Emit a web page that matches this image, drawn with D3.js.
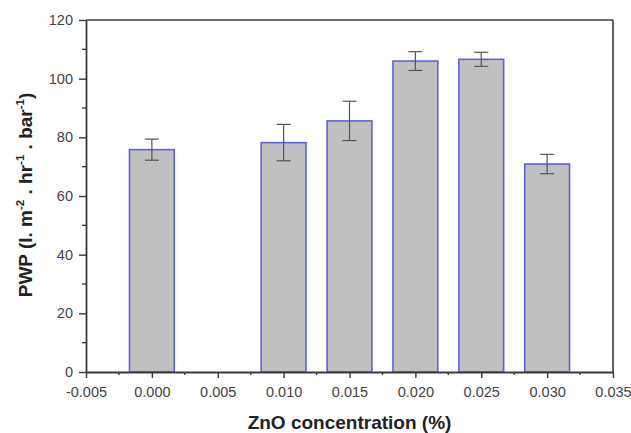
<!DOCTYPE html>
<html>
<head>
<meta charset="utf-8">
<script src="https://cdn.jsdelivr.net/npm/d3@7"></script>
<style>
  html, body { margin: 0; padding: 0; background: #fff; }
  svg { display: block; font-family: Arial, "Liberation Sans", sans-serif; }
</style>
</head>
<body>
<svg id="chart" width="631" height="433"></svg>
<script>
// Data
const concentrations = [0.000, 0.010, 0.015, 0.020, 0.025, 0.030];
const pwpValues      = [75.8, 78.2, 85.6, 106.0, 106.6, 70.9];
const pwpErrors      = [3.6, 6.2, 6.7, 3.2, 2.4, 3.3];
const xTickValues    = [-0.005, 0.000, 0.005, 0.010, 0.015, 0.020, 0.025, 0.030, 0.035];
const yTickValues    = [0, 20, 40, 60, 80, 100, 120];

const data = concentrations.map((c, i) => ({ c, v: pwpValues[i], e: pwpErrors[i] }));

const svg = d3.select("#chart");
const m = { left: 86, right: 613, top: 20, bottom: 372 };

const x = d3.scaleLinear().domain([-0.005, 0.035]).range([m.left, m.right]);
const y = d3.scaleLinear().domain([0, 120]).range([m.bottom, m.top]);

const barW = 0.0034; // in data units
const axisColor = "#3a3a3a";
const labelColor = "#444";

// Bars
svg.append("g").selectAll("rect").data(data).join("rect")
  .attr("x", d => x(d.c - barW / 2))
  .attr("width", d => x(d.c + barW / 2) - x(d.c - barW / 2))
  .attr("y", d => y(d.v))
  .attr("height", d => y(0) - y(d.v))
  .attr("fill", "#c0c0c0")
  .attr("stroke", "#6060e0")
  .attr("stroke-width", 1.6);

// Error bars
const eg = svg.append("g").attr("stroke", "#555").attr("stroke-width", 1.2).attr("fill", "none");
const capHalf = 7;
data.forEach(d => {
  eg.append("line").attr("x1", x(d.c)).attr("x2", x(d.c)).attr("y1", y(d.v + d.e)).attr("y2", y(d.v - d.e));
  eg.append("line").attr("x1", x(d.c) - capHalf).attr("x2", x(d.c) + capHalf).attr("y1", y(d.v + d.e)).attr("y2", y(d.v + d.e));
  eg.append("line").attr("x1", x(d.c) - capHalf).attr("x2", x(d.c) + capHalf).attr("y1", y(d.v - d.e)).attr("y2", y(d.v - d.e));
});

// Frame (top and right)
svg.append("line").attr("x1", m.left).attr("x2", m.right).attr("y1", m.top).attr("y2", m.top)
  .attr("stroke", axisColor).attr("stroke-width", 1.6);
svg.append("line").attr("x1", m.right).attr("x2", m.right).attr("y1", m.top).attr("y2", m.bottom)
  .attr("stroke", axisColor).attr("stroke-width", 1.6);

// X axis
const xMinor = d3.range(-0.0025, 0.035, 0.005);
const xAxis = d3.axisBottom(x).tickValues(xTickValues).tickFormat(d3.format(".3f")).tickSize(6).tickPadding(9).tickSizeOuter(0);
const gx = svg.append("g").attr("transform", `translate(0,${m.bottom})`).call(xAxis);
gx.select(".domain").attr("stroke", axisColor).attr("stroke-width", 1.8);
gx.selectAll(".tick line").attr("stroke", axisColor).attr("stroke-width", 1.4);
gx.selectAll(".tick text").attr("fill", labelColor).attr("font-size", 14.5)
  .text(d => d < 0 ? "-" + d3.format(".3f")(-d) : d3.format(".3f")(d));
gx.append("g").selectAll("line").data(xMinor).join("line")
  .attr("x1", d => x(d)).attr("x2", d => x(d)).attr("y1", 0).attr("y2", 3)
  .attr("stroke", axisColor).attr("stroke-width", 1.4);

// Y axis
const yMinor = d3.range(10, 120, 20);
const yAxis = d3.axisLeft(y).tickValues(yTickValues).tickFormat(d3.format("d")).tickSize(7).tickPadding(6).tickSizeOuter(0);
const gy = svg.append("g").attr("transform", `translate(${m.left},0)`).call(yAxis);
gy.select(".domain").attr("stroke", axisColor).attr("stroke-width", 1.8);
gy.selectAll(".tick line").attr("stroke", axisColor).attr("stroke-width", 1.4);
gy.selectAll(".tick text").attr("fill", labelColor).attr("font-size", 14.5);
gy.append("g").selectAll("line").data(yMinor).join("line")
  .attr("x1", -4).attr("x2", 0).attr("y1", d => y(d)).attr("y2", d => y(d))
  .attr("stroke", axisColor).attr("stroke-width", 1.4);

// X label
svg.append("text")
  .attr("x", (m.left + m.right) / 2).attr("y", 429)
  .attr("text-anchor", "middle").attr("font-weight", "bold").attr("font-size", 19).attr("fill", "#222")
  .text("ZnO concentration (%)");

// Y label with superscripts
const yl = svg.append("text")
  .attr("transform", "translate(32,195) rotate(-90)")
  .attr("text-anchor", "middle").attr("font-weight", "bold").attr("font-size", 19).attr("fill", "#222");
const parts = [["PWP (l. m", false], ["-2", true], [" . hr", false], ["-1", true], [" . bar", false], ["-1", true], [")", false]];
parts.forEach(([t, sup], i) => {
  const ts = yl.append("tspan").text(t);
  if (sup) ts.attr("font-size", 11.5).attr("dy", -8);
  else if (i > 0 && parts[i - 1][1]) ts.attr("dy", 8);
});
</script>
</body>
</html>
